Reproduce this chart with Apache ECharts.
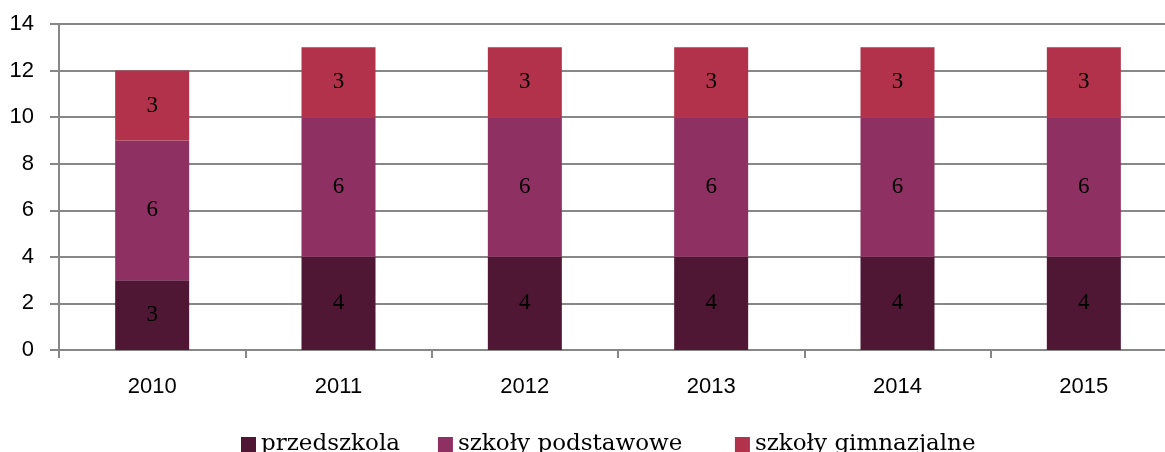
<!DOCTYPE html>
<html lang="pl">
<head>
<meta charset="UTF-8">
<title>Szkoły</title>
<script src="https://cdn.jsdelivr.net/npm/echarts@6/dist/echarts.min.js"></script>
<style>
  html, body { margin: 0; padding: 0; background: #fff; }
  #main { width: 1165px; height: 452px; }
</style>
</head>
<body>
<div id="main"></div>
<script>
var years = ['2010', '2011', '2012', '2013', '2014', '2015'];
var przedszkola = [3, 4, 4, 4, 4, 4];
var podstawowe = [6, 6, 6, 6, 6, 6];
var gimnazjalne = [3, 3, 3, 3, 3, 3];

var myChart = echarts.init(document.getElementById('main'));

// etykiety wartości na słupkach
var barLabel = {
    show: true,
    position: 'inside',
    color: '#000',
    fontFamily: 'Liberation Serif',
    fontSize: 23
};

function serie(name, data, color) {
    return {
        name: name,
        type: 'bar',
        stack: 'all',
        barWidth: 74,
        data: data,
        itemStyle: { color: color },
        label: barLabel
    };
}

myChart.setOption({
    animation: false,
    grid: { left: 59, right: -12, top: 24, bottom: 102, outerBoundsMode: 'none', containLabel: false },
    legend: {
        left: 236,
        top: 428,
        itemWidth: 15,
        itemHeight: 15,
        itemGap: 38,
        icon: 'rect',
        textStyle: { fontFamily: 'DejaVu Serif', fontSize: 23, color: '#000' },
        // drugi wpis ma w oryginale większy odstęp
        formatter: function (name) {
            return name === 'szkoły podstawowe' ? name + '  ' : name;
        },
        data: ['przedszkola', 'szkoły podstawowe', 'szkoły gimnazjalne']
    },
    xAxis: {
        type: 'category',
        data: years,
        axisLine: { lineStyle: { color: '#878787', width: 2 } },
        axisTick: { show: true, length: 8, lineStyle: { color: '#878787', width: 2 } },
        axisLabel: { color: '#000', fontFamily: 'Liberation Sans', fontSize: 22, margin: 26 }
    },
    yAxis: {
        type: 'value',
        min: 0,
        max: 14,
        interval: 2,
        axisLine: { show: true, lineStyle: { color: '#878787', width: 2 } },
        axisTick: { show: true, length: 9, lineStyle: { color: '#878787', width: 2 } },
        splitLine: { lineStyle: { color: '#878787', width: 2 } },
        axisLabel: { color: '#000', fontFamily: 'Liberation Sans', fontSize: 22, margin: 25 }
    },
    series: [
        serie('przedszkola', przedszkola, '#4f1734'),
        serie('szkoły podstawowe', podstawowe, '#8e3062'),
        serie('szkoły gimnazjalne', gimnazjalne, '#b1324a')
    ]
});
</script>
</body>
</html>
